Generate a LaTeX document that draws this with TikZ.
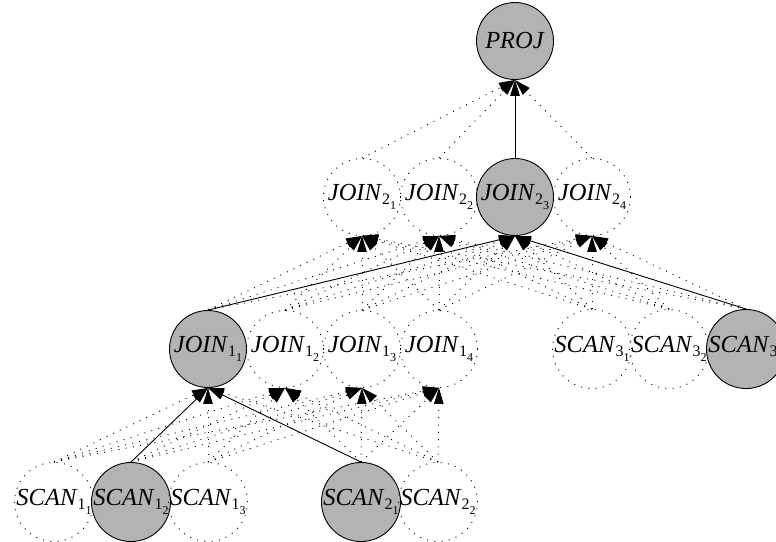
\documentclass[tikz,border=0pt]{standalone}
\usepackage{fontspec}
\setmainfont{Liberation Serif}
\usetikzlibrary{arrows.meta}
\definecolor{nodegray}{RGB}{179,179,179}
% operator name with a two-level subscript, e.g. JOIN_{2_1}
\newcommand{\opname}[3]{\textit{#1}\raisebox{-4pt}{\fontsize{16}{16}\selectfont #2\raisebox{-5pt}{\fontsize{12}{12}\selectfont #3}}}
\begin{document}
\begin{tikzpicture}[x=1pt,y=-1pt,
  op/.style={circle, minimum size=77pt, inner sep=0pt, line width=0.9pt,
             font=\fontsize{24.5}{28}\selectfont},
  chosen/.style={op, draw=black, fill=nodegray},
  alt/.style={op, draw=black, dash pattern=on 1pt off 6.3pt},
  plan/.style={line width=0.9pt, -{Triangle[length=16pt,width=9.5pt]}},
  altplan/.style={plan, dash pattern=on 1pt off 6.3pt}]
\useasboundingbox (0,0) rectangle (776,541);
\clip (0,0) rectangle (776,541);

% root
\node[chosen] (P) at (515,41) {\textit{PROJ}};

% upper join alternatives
\node[alt]    (J21) at (362,197) {\opname{JOIN}{2}{1}};
\node[alt]    (J22) at (439,197) {\opname{JOIN}{2}{2}};
\node[chosen] (J23) at (515,197) {\opname{JOIN}{2}{3}};
\node[alt]    (J24) at (592,197) {\opname{JOIN}{2}{4}};

% lower join alternatives
\node[chosen] (J11) at (208,349) {\opname{JOIN}{1}{1}};
\node[alt]    (J12) at (285,349) {\opname{JOIN}{1}{2}};
\node[alt]    (J13) at (362,349) {\opname{JOIN}{1}{3}};
\node[alt]    (J14) at (439,349) {\opname{JOIN}{1}{4}};

% scans of relation 3
\node[alt]    (S31) at (592,349) {\opname{SCAN}{3}{1}};
\node[alt]    (S32) at (669,349) {\opname{SCAN}{3}{2}};
\node[chosen] (S33) at (746,349) {\opname{SCAN}{3}{3}};

% scans of relations 1 and 2
\node[alt]    (S11) at (54,502)  {\opname{SCAN}{1}{1}};
\node[chosen] (S12) at (131,502) {\opname{SCAN}{1}{2}};
\node[alt]    (S13) at (208,502) {\opname{SCAN}{1}{3}};
\node[chosen] (S21) at (361,502) {\opname{SCAN}{2}{1}};
\node[alt]    (S22) at (438,502) {\opname{SCAN}{2}{2}};

% alternatives feeding the root
\foreach \s in {J21,J22,J24}
  \draw[altplan] (\s.north) -- (P.south);
\draw[plan] (J23.north) -- (P.south);

% alternatives feeding the upper joins
\foreach \s in {J11,J12,J13,J14,S31,S32,S33}
  \foreach \t in {J21,J22,J24}
    \draw[altplan] (\s.north) -- (\t.south);
\foreach \s in {J12,J13,J14,S31,S32}
  \draw[altplan] (\s.north) -- (J23.south);
\draw[plan] (J11.north) -- (J23.south);
\draw[plan] (S33.north) -- (J23.south);

% alternatives feeding the lower joins
\foreach \s in {S11,S12,S13,S21,S22}
  \foreach \t in {J12,J13,J14}
    \draw[altplan] (\s.north) -- (\t.south);
\foreach \s in {S11,S13,S22}
  \draw[altplan] (\s.north) -- (J11.south);
\draw[plan] (S12.north) -- (J11.south);
\draw[plan] (S21.north) -- (J11.south);
\end{tikzpicture}
\end{document}
